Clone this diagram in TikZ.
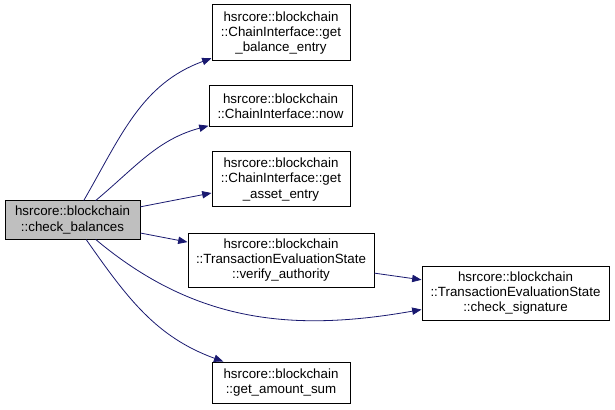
\documentclass[tikz,border=0pt]{standalone}
\usepackage{fontspec}
\setmainfont{Liberation Sans}
\usepackage{tikz}
\usetikzlibrary{arrows.meta, positioning}
\usepackage{xcolor}
\definecolor{edgeblue}{RGB}{25,25,112}
\definecolor{callergray}{RGB}{191,191,191}

\tikzset{
  fnbox/.style={rectangle, draw=black, line width=0.75pt, fill=white,
        align=center, inner sep=1pt, font=\fontsize{10}{11.3}\selectfont},
  call/.style={draw=edgeblue, line width=0.6pt,
        -{Triangle[length=7pt, width=5.5pt]}}
}

\begin{document}
\begin{tikzpicture}[x=0.75pt, y=-0.75pt]
  \fill[white] (0,0) rectangle (615,410);
  \useasboundingbox (0,0) rectangle (615,410);

  \node[fnbox, fill=callergray, minimum width=101.25pt, minimum height=28.5pt]
        (check) at (72.5,220) {hsrcore::blockchain\\::check\_balances};
  \node[fnbox, minimum width=103.5pt, minimum height=42pt]
        (balance) at (281,33)
        {hsrcore::blockchain\\::ChainInterface::get\\\_balance\_entry};
  \node[fnbox, minimum width=107.25pt, minimum height=30.75pt]
        (now) at (280.5,106.5) {hsrcore::blockchain\\::ChainInterface::now};
  \node[fnbox, minimum width=103.5pt, minimum height=41.25pt]
        (asset) at (281,179.5)
        {hsrcore::blockchain\\::ChainInterface::get\\\_asset\_entry};
  \node[fnbox, minimum width=139.5pt, minimum height=40.5pt]
        (verify) at (281,260)
        {hsrcore::blockchain\\::TransactionEvaluationState\\::verify\_authority};
  \node[fnbox, minimum width=140.25pt, minimum height=40.5pt]
        (sig) at (515.5,293)
        {hsrcore::blockchain\\::TransactionEvaluationState\\::check\_signature};
  \node[fnbox, minimum width=103.5pt, minimum height=30.75pt]
        (sum) at (281,382.5) {hsrcore::blockchain\\::get\_amount\_sum};

  \draw[call] (check) to[out=60, in=200] (balance);
  \draw[call] (check) to[out=40, in=195] (now);
  \draw[call] (check) -- (asset);
  \draw[call] (check) -- (verify);
  \draw[call] (check) to[out=-40, in=190] (sig);
  \draw[call] (check) to[out=-55, in=160] (sum);
  \draw[call] (verify) -- (sig);
\end{tikzpicture}
\end{document}
